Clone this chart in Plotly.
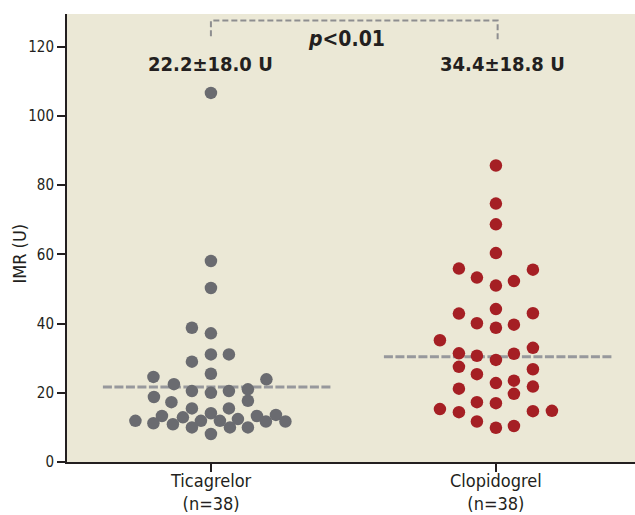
import plotly.graph_objects as go

# IMR values (U) per patient, grouped by treatment arm
categories = ["Ticagrelor", "Clopidogrel"]
n_counts = [38, 38]

ticagrelor_imr = [106.7, 58.1, 50.3, 38.8, 37.2, 31.1, 31.1, 29.0, 25.5, 24.6,
                  23.9, 22.5, 21.0, 20.5, 20.5, 20.0, 18.8, 17.7, 17.3, 15.5,
                  15.5, 14.1, 13.6, 13.3, 13.3, 12.9, 12.4, 11.9, 11.9, 11.9,
                  11.7, 11.7, 11.2, 10.9, 10.0, 10.0, 10.0, 8.1]
clopidogrel_imr = [85.7, 74.7, 68.7, 60.4, 55.9, 55.6, 53.3, 52.3, 51.0, 44.2,
                   43.0, 42.9, 40.1, 39.7, 38.8, 35.2, 33.0, 31.4, 31.3, 30.7,
                   29.5, 27.5, 26.8, 25.4, 23.5, 22.8, 21.8, 21.2, 19.7, 17.3,
                   17.0, 15.3, 14.8, 14.7, 14.4, 11.7, 10.4, 9.9]

# horizontal swarm offsets so dots don't overlap (divided by SWARM_UNIT)
ticagrelor_swarm = [0, 0, 0, -19, 0, 0, 18, -19, 0, -57.5,
                    55.5, -37, 37, -19, 18, 0, -57, 37, -39.5, -19,
                    18, 0, 65, -49, 46, -28, 27, -75.5, -10, 9,
                    55, 74.5, -57.5, -38, -19, 19, 37, 0]
clopidogrel_swarm = [0, 0, 0, 0, -37, 37, -19, 18, 0, 0,
                     37, -37, -19, 18, 0, -56, 37, -37, 18, -19,
                     0, -37, 37, -19, 18, 0, 37, -37, 18, -19,
                     0, -56, 56, 37, -37, -19, 18, 0]
SWARM_UNIT = 285.0

mean_sd_labels = ["22.2±18.0 U", "34.4±18.8 U"]
reference_levels = [21.7, 30.4]
p_label = "<i>p</i>&lt;0.01"

BG = "#ebe8d6"
INK = "#231f20"
GRAY_DOT = "#6a6b70"
RED_DOT = "#a51f24"
DASH_GRAY = "#97989c"
COND = "DejaVu Sans Condensed, Liberation Sans Narrow, sans-serif"

fig = go.Figure()

# dashed reference level for each arm
level_spans = [(-0.379, 0.421), (-0.393, 0.407)]
for i, (lvl, (a, b)) in enumerate(zip(reference_levels, level_spans)):
    fig.add_trace(go.Scatter(
        x=[i + a, i + b], y=[lvl, lvl], mode="lines",
        line=dict(color=DASH_GRAY, width=3, dash="9px,2.5px"),
        hoverinfo="skip", showlegend=False))

for i, (vals, swarm, col) in enumerate([
        (ticagrelor_imr, ticagrelor_swarm, GRAY_DOT),
        (clopidogrel_imr, clopidogrel_swarm, RED_DOT)]):
    fig.add_trace(go.Scatter(
        x=[i + s / SWARM_UNIT for s in swarm], y=vals, mode="markers",
        marker=dict(size=12.5, color=col, line=dict(width=0)),
        name=categories[i], showlegend=False))

# significance bracket
fig.add_shape(type="path", xref="x", yref="y",
              path="M 0,123.1 L 0,127.6 L 1.006,127.6 L 1.006,122.0",
              line=dict(color="#8e8e90", width=2, dash="6px,3px"))

annotations = []
for i, lab in enumerate(mean_sd_labels):
    annotations.append(dict(
        x=i, y=115.1, xref="x", yref="y", text=f"<b>{lab}</b>",
        showarrow=False, xshift=(0 if i == 0 else 7),
        font=dict(family=COND, size=20, color=INK)))
annotations.append(dict(
    x=0.474, y=122.2, xref="x", yref="y", text=f"<b>{p_label}</b>",
    showarrow=False, font=dict(family=COND, size=21, color=INK)))

# two-line category labels under the ticks
for i, (cat, n) in enumerate(zip(categories, n_counts)):
    annotations.append(dict(
        x=i, y=-0.1183, xref="x", yref="paper", yanchor="bottom",
        text=f"{cat}<br>(n={n})", showarrow=False, borderpad=0,
        font=dict(family=COND, size=18, color=INK)))

# y-axis title
annotations.append(dict(
    x=-0.083, y=0.465, xref="paper", yref="paper", text="IMR (U)",
    textangle=-90, showarrow=False, xanchor="center", yanchor="middle",
    font=dict(family=COND, size=18, color=INK)))

fig.update_layout(
    width=635, height=515,
    margin=dict(l=67, r=0, t=14, b=53, autoexpand=False),
    paper_bgcolor="white", plot_bgcolor=BG,
    annotations=annotations,
    xaxis=dict(
        range=[-0.505, 1.488], tickvals=[0, 1], ticktext=categories,
        showticklabels=False,
        ticks="outside", ticklen=8, tickwidth=1.5, tickcolor=INK,
        showline=True, linewidth=2, linecolor=INK, showgrid=False,
        zeroline=False, fixedrange=True),
    yaxis=dict(
        range=[0, 129.5], tickvals=[0, 20, 40, 60, 80, 100, 120],
        ticks="outside", ticklen=8, tickwidth=1.5, tickcolor=INK,
        showline=True, linewidth=2, linecolor=INK, showgrid=False,
        zeroline=False, tickfont=dict(family=COND, size=15, color=INK),
        fixedrange=True),
)

fig.write_html("out.html")
